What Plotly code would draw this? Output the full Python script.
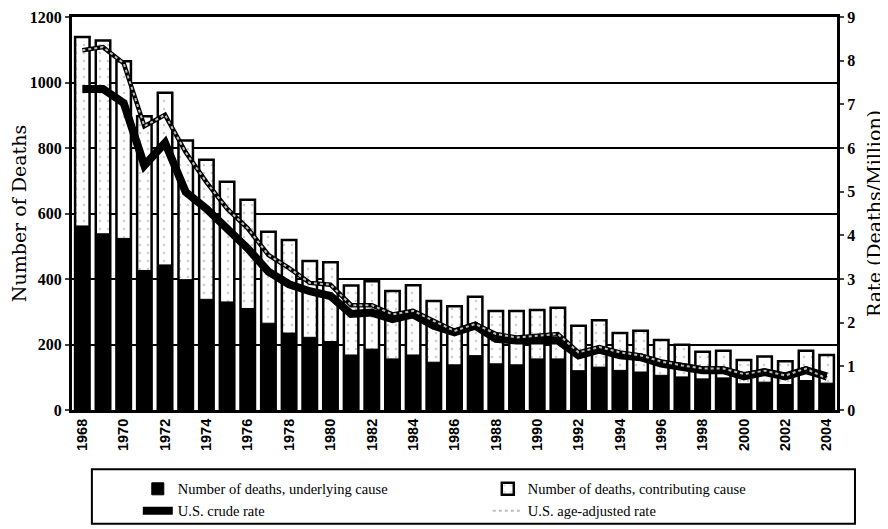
import plotly.graph_objects as go

years = list(range(1968, 2005))
deaths_contributing = [1139, 1128, 1065, 897, 969, 823, 764, 697, 642, 544, 519,
                       455, 451, 380, 393, 363, 381, 333, 317, 346, 302, 302,
                       305, 312, 257, 274, 235, 242, 214, 199, 178, 181, 153,
                       163, 149, 181, 168]
deaths_underlying = [562, 538, 524, 426, 443, 398, 338, 330, 310, 265, 235,
                     222, 209, 168, 186, 156, 168, 146, 138, 166, 141, 138,
                     156, 156, 120, 131, 121, 116, 106, 101, 95, 98, 80,
                     85, 78, 90, 82]
crude_rate = [7.35, 7.35, 7.03, 5.60, 6.12, 4.99, 4.61, 4.16, 3.70, 3.17, 2.88,
              2.72, 2.61, 2.20, 2.23, 2.08, 2.19, 1.93, 1.78, 1.93, 1.63, 1.59,
              1.59, 1.59, 1.25, 1.38, 1.25, 1.21, 1.06, 0.98, 0.91, 0.91, 0.77,
              0.87, 0.77, 0.91, 0.77]
adjusted_rate = [8.24, 8.31, 7.94, 6.50, 6.76, 5.90, 5.22, 4.61, 4.16, 3.55, 3.25,
                 2.91, 2.87, 2.40, 2.40, 2.19, 2.27, 2.04, 1.81, 1.97, 1.74, 1.66,
                 1.70, 1.74, 1.32, 1.44, 1.32, 1.25, 1.11, 1.02, 0.95, 0.95, 0.82,
                 0.90, 0.79, 0.95, 0.72]
year_ticks = list(range(1968, 2005, 2))
left_ticks = [0, 200, 400, 600, 800, 1000, 1200]
right_ticks = list(range(0, 10))

serif = "Liberation Serif"
title_font = dict(family="DejaVu Serif", size=19, color="black")

fig = go.Figure()
fig.add_trace(go.Bar(
    x=years, y=deaths_contributing, name="Number of deaths, contributing cause",
    width=0.7, legendrank=2,
    marker=dict(color="white", line=dict(color="black", width=2.5),
                pattern=dict(shape=".", fgcolor="#999999", bgcolor="white",
                             size=8, solidity=0.08)),
))
fig.add_trace(go.Bar(
    x=years, y=deaths_underlying, name="Number of deaths, underlying cause",
    width=0.7, legendrank=1,
    marker=dict(color="black", line=dict(color="black", width=1)),
))
fig.add_trace(go.Scatter(
    x=years, y=crude_rate, yaxis="y2", mode="lines", name="U.S. crude rate",
    legendrank=3, line=dict(color="black", width=8),
))
fig.add_trace(go.Scatter(
    x=years, y=adjusted_rate, yaxis="y2", mode="lines", showlegend=False,
    line=dict(color="black", width=4.5), hoverinfo="skip",
))
fig.add_trace(go.Scatter(
    x=years, y=adjusted_rate, yaxis="y2", mode="lines", name="U.S. age-adjusted rate",
    legendrank=4, line=dict(color="#bdbdbd", width=2, dash="dot"),
))

fig.update_layout(
    width=880, height=521,
    margin=dict(l=64, r=51, t=9, b=119, autoexpand=False),
    paper_bgcolor="white", plot_bgcolor="white",
    barmode="overlay", bargap=0.3,
    font=dict(family=serif, color="black"),
    xaxis=dict(
        range=[1967.5, 2004.5], tickmode="array", tickvals=year_ticks,
        ticktext=[str(y) for y in year_ticks], tickangle=-90,
        tickfont=dict(family="Liberation Sans", size=14.5, weight="bold"),
        showgrid=False, showline=True, linecolor="black", linewidth=3,
        mirror=True, ticks="", zeroline=False, automargin=False,
    ),
    yaxis=dict(
        range=[0, 1200], tickmode="array", tickvals=left_ticks,
        tickfont=dict(family=serif, size=16, weight="bold"),
        ticklabeloverflow="allow",
        showgrid=True, gridcolor="black", gridwidth=2,
        showline=True, linecolor="black", linewidth=3,
        ticks="outside", ticklen=4, tickwidth=2, zeroline=False, automargin=False,
        title=dict(text="Number of Deaths", font=title_font, standoff=10),
    ),
    yaxis2=dict(
        range=[0, 9], overlaying="y", side="right", tickmode="array",
        tickvals=right_ticks,
        tickfont=dict(family=serif, size=16, weight="bold"),
        ticklabeloverflow="allow",
        showgrid=False, showline=True, linecolor="black", linewidth=3,
        ticks="outside", ticklen=4, tickwidth=2, zeroline=False, automargin=False,
        title=dict(text="Rate (Deaths/Million)", font=title_font, standoff=14),
    ),
    legend=dict(
        orientation="h", x=0.086, xanchor="left", y=-0.16, yanchor="top",
        entrywidth=305, entrywidthmode="pixels", traceorder="normal",
        font=dict(family=serif, size=14.5), bgcolor="rgba(0,0,0,0)",
        tracegroupgap=0, itemwidth=30,
    ),
    shapes=[dict(type="rect", xref="paper", yref="paper",
                 x0=0.026, x1=1.0235, y0=-0.2897, y1=-0.151,
                 line=dict(color="black", width=2))],
)

fig.write_html("out.html")
